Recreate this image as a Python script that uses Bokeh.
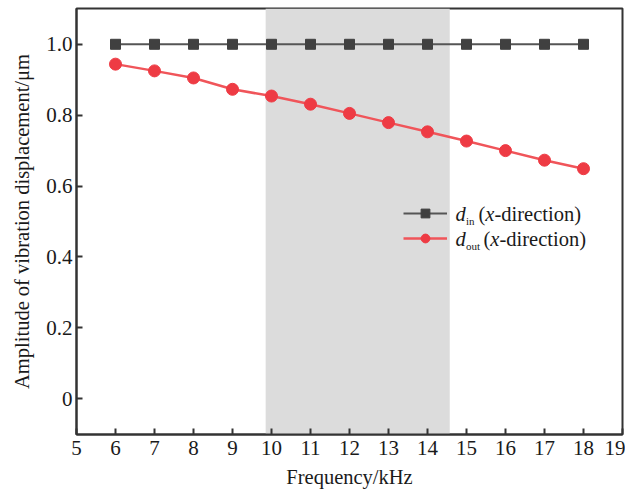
from bokeh.plotting import figure
from bokeh.models import BoxAnnotation, Legend, LegendItem, Label, FixedTicker
from bokeh.embed import file_html
from bokeh.resources import INLINE

# ---- data ----
freq = [6, 7, 8, 9, 10, 11, 12, 13, 14, 15, 16, 17, 18]
d_in = [1.0, 1.0, 1.0, 1.0, 1.0, 1.0, 1.0, 1.0, 1.0, 1.0, 1.0, 1.0, 1.0]
d_out = [0.944, 0.925, 0.905, 0.873, 0.854, 0.831, 0.805, 0.779, 0.753, 0.727, 0.700, 0.673, 0.649]
x_ticks = [5, 6, 7, 8, 9, 10, 11, 12, 13, 14, 15, 16, 17, 18, 19]
y_ticks = [0, 0.2, 0.4, 0.6, 0.8, 1.0]
band = (9.85, 14.57)

FONT = "Liberation Serif"
AX = "#333333"
TXT = "#1a1a1a"

p = figure(width=625, height=490, output_backend="svg", toolbar_location=None,
           x_range=(5, 19), y_range=(-0.101, 1.101),
           min_border_left=76, min_border_right=3, min_border_top=8, min_border_bottom=54)
p.background_fill_color = "white"
p.border_fill_color = "white"
p.xgrid.visible = False
p.ygrid.visible = False
p.outline_line_color = AX
p.outline_line_width = 2

shade = BoxAnnotation(left=band[0], right=band[1], fill_color="#dcdcdc", fill_alpha=1.0,
                      line_alpha=0, level="underlay")
p.add_layout(shade)

r1l = p.line(freq, d_in, line_color="#555555", line_width=2)
r1m = p.scatter(freq, d_in, marker="square", size=10, fill_color="#404040", line_color="#404040")
r2l = p.line(freq, d_out, line_color="#f0555a", line_width=2.5)
r2m = p.scatter(freq, d_out, marker="circle", size=12, fill_color="#ee3b44", line_color="#ee3b44")

for ax in (p.xaxis[0], p.yaxis[0]):
    ax.axis_line_color = AX
    ax.axis_line_width = 2
    ax.major_tick_line_color = AX
    ax.major_tick_line_width = 2
    ax.major_tick_in = 6
    ax.major_tick_out = 0
    ax.minor_tick_line_color = None
    ax.major_label_text_font = FONT
    ax.major_label_text_font_size = "21px"
    ax.major_label_text_color = TXT
    ax.axis_label_text_font = FONT
    ax.axis_label_text_font_size = "20.5px"
    ax.axis_label_text_font_style = "normal"
    ax.axis_label_text_color = TXT

p.xaxis.ticker = FixedTicker(ticks=x_ticks)
p.yaxis.ticker = FixedTicker(ticks=y_ticks)
p.yaxis.major_label_overrides = {0: "0", 1: "1.0"}
p.xaxis.axis_label = "Frequency/kHz"
p.yaxis.axis_label = "Amplitude of vibration displacement/μm"
p.xaxis.major_label_standoff = 6
p.xaxis.axis_label_standoff = 8
p.yaxis.major_label_standoff = 4
p.yaxis.axis_label_standoff = 10

legend = Legend(items=[LegendItem(label="", renderers=[r1l, r1m]),
                       LegendItem(label="", renderers=[r2l, r2m])],
                location=(327, 185), padding=0, margin=0, spacing=3,
                glyph_width=44, glyph_height=22, label_height=22, label_width=0,
                label_standoff=0, border_line_color=None, background_fill_alpha=0)
p.add_layout(legend)

# legend texts with subscripts
rows = [(221, "in", 402), (196, "out", 407)]
for yy, sub, xpar in rows:
    p.add_layout(Label(x=379, y=yy, x_units="screen", y_units="screen", text="d",
                       text_font=FONT, text_font_style="italic", text_font_size="20.5px",
                       text_baseline="middle", text_color=TXT))
    p.add_layout(Label(x=389.5, y=yy - 7, x_units="screen", y_units="screen", text=sub,
                       text_font=FONT, text_font_size="11px",
                       text_baseline="middle", text_color=TXT))
    p.add_layout(Label(x=xpar, y=yy, x_units="screen", y_units="screen", text="(",
                       text_font=FONT, text_font_size="20.5px",
                       text_baseline="middle", text_color=TXT))
    p.add_layout(Label(x=xpar + 6.8, y=yy, x_units="screen", y_units="screen", text="x",
                       text_font=FONT, text_font_style="italic", text_font_size="20.5px",
                       text_baseline="middle", text_color=TXT))
    p.add_layout(Label(x=xpar + 16, y=yy, x_units="screen", y_units="screen", text="-direction)",
                       text_font=FONT, text_font_size="20.5px",
                       text_baseline="middle", text_color=TXT))

open("out.html", "w").write(file_html(p, INLINE))
